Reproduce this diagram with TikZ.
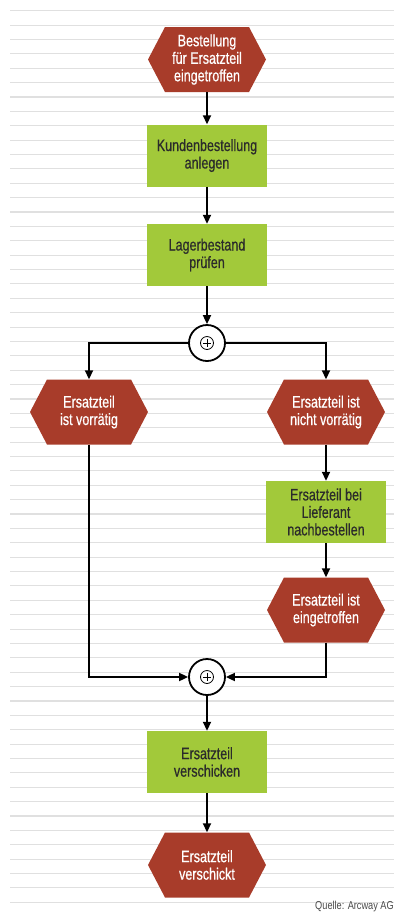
\documentclass[tikz,border=0pt]{standalone}
\usepackage{fontspec}
\setmainfont[FakeStretch=0.76,FakeBold=0.6]{Liberation Sans}
\newfontfamily\srcfont[FakeStretch=0.8]{Liberation Sans}
\usetikzlibrary{arrows.meta,calc}
\definecolor{hexred}{HTML}{A83C2A}
\definecolor{boxgreen}{HTML}{A2C93A}
\definecolor{stripe}{HTML}{E0E0E0}
\definecolor{txtdark}{HTML}{2B2B2B}
\definecolor{srcgray}{HTML}{4A4A4A}
\begin{document}
\begin{tikzpicture}[x=1pt,y=-1pt,
  every node/.style={font=\fontsize{16.5}{17.5}\selectfont, align=center, inner sep=0pt},
  event/.style={minimum width=118pt, minimum height=65pt, text=white,
    path picture={\fill[hexred] (path picture bounding box.west)
      -- ($(path picture bounding box.north west)+(17,0)$)
      -- ($(path picture bounding box.north east)+(-17,0)$)
      -- (path picture bounding box.east)
      -- ($(path picture bounding box.south east)+(-17,0)$)
      -- ($(path picture bounding box.south west)+(17,0)$) -- cycle;}},
  func/.style={fill=boxgreen, minimum width=120pt, minimum height=62pt, text=txtdark},
  xor/.style={circle, draw=black, line width=1.8pt, fill=white, minimum size=36pt,
    path picture={
      \draw[line width=0.8pt] (path picture bounding box.center) circle (6.5);
      \draw[line width=0.8pt] ($(path picture bounding box.center)+(-4.2,0)$) -- ($(path picture bounding box.center)+(4.2,0)$);
      \draw[line width=0.8pt] ($(path picture bounding box.center)+(0,-4.2)$) -- ($(path picture bounding box.center)+(0,4.2)$);}},
  flow/.style={line width=1.8pt, -{Triangle[length=9pt,width=8pt]}}
]
\useasboundingbox (0,0) rectangle (394,914);
\fill[white] (0,0) rectangle (394,914);
\foreach \i in {0,...,62} \draw[stripe, line width=1.1pt] (10,{10.7+14.38*\i}) -- (394,{10.7+14.38*\i});

\node[event] (e1) at (207,59.5) {Bestellung\\für Ersatzteil\\eingetroffen};
\node[func] (f1) at (207,155.5) {Kundenbestellung\\anlegen};
\node[func] (f2) at (207,255) {Lagerbestand\\prüfen};
\node[xor] (x1) at (207,343) {};
\node[event] (e2) at (89,412) {Ersatzteil\\ist vorrätig};
\node[event] (e3) at (326,412) {Ersatzteil ist\\nicht vorrätig};
\node[func] (f3) at (326,512) {Ersatzteil bei\\Lieferant\\nachbestellen};
\node[event] (e4) at (326,610) {Ersatzteil ist\\eingetroffen};
\node[xor] (x2) at (207,677) {};
\node[func] (f4) at (207,762) {Ersatzteil\\verschicken};
\node[event] (e5) at (207,865) {Ersatzteil\\verschickt};
\node[text=srcgray, font=\srcfont\fontsize{11.5}{12}\selectfont, anchor=south east] (src) at (394,912) {Quelle: Arcway AG};

\draw[flow] (e1) -- (f1);
\draw[flow] (f1) -- (f2);
\draw[flow] (f2) -- (x1);
\draw[flow] (x1.west) -| (e2.north);
\draw[flow] (x1.east) -| (e3.north);
\draw[flow] (e3) -- (f3);
\draw[flow] (f3) -- (e4);
\draw[flow] (e2.south) |- (x2.west);
\draw[flow] (e4.south) |- (x2.east);
\draw[flow] (x2) -- (f4);
\draw[flow] (f4) -- (e5);
\end{tikzpicture}
\end{document}
